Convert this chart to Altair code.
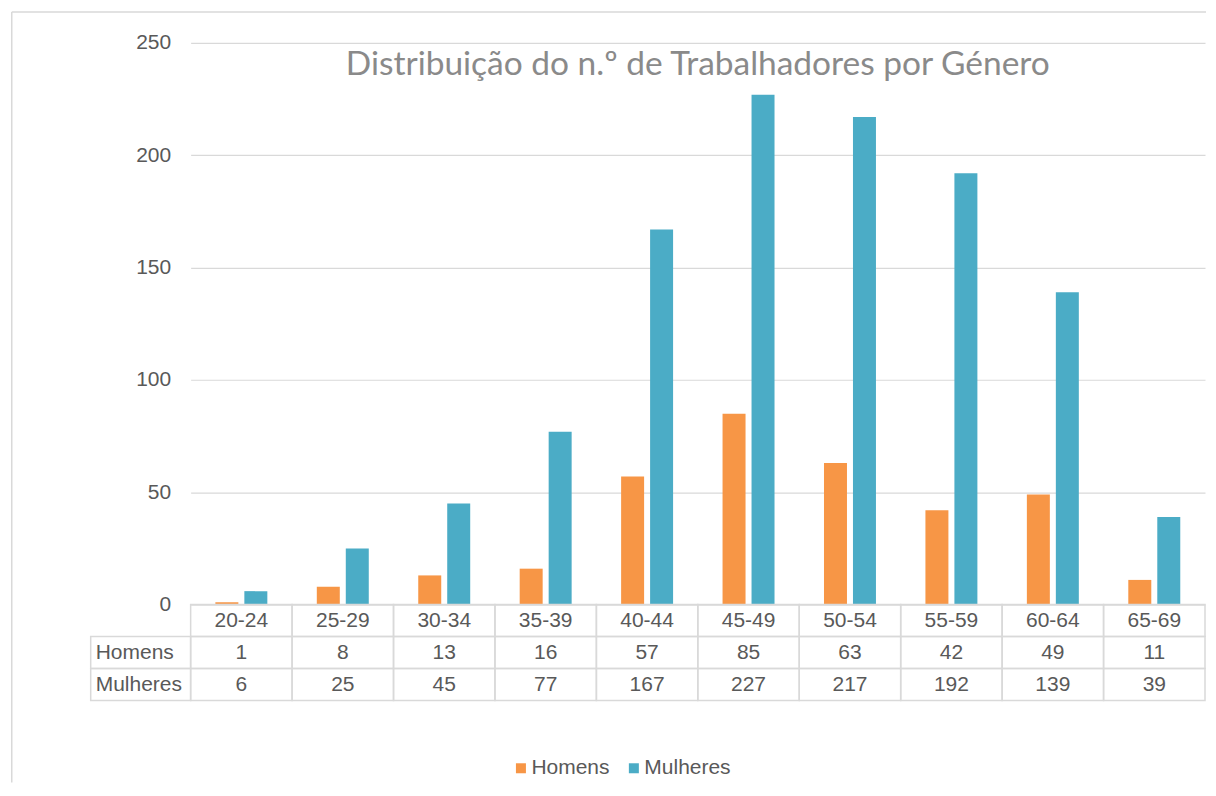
import altair as alt
import pandas as pd

categories = ["20-24", "25-29", "30-34", "35-39", "40-44", "45-49", "50-54", "55-59", "60-64", "65-69"]
homens = [1, 8, 13, 16, 57, 85, 63, 42, 49, 11]
mulheres = [6, 25, 45, 77, 167, 227, 217, 192, 139, 39]
series = ["Homens", "Mulheres"]
colors = ["#F79646", "#4BACC6"]
y_ticks = [0, 50, 100, 150, 200, 250]
title_text = "Distribuição do n.º de Trabalhadores por Género"
row_order = ["header", "Homens", "Mulheres"]

GRID = "#d9d9d9"
TXT = "#595959"
FONT = "Liberation Sans"
FS = 21

bars_df = pd.DataFrame({
    "cat": categories * 2,
    "serie": ["Homens"] * len(categories) + ["Mulheres"] * len(categories),
    "value": homens + mulheres,
})

table_df = pd.DataFrame({
    "cat": categories * 3,
    "row": ["header"] * len(categories) + ["Homens"] * len(categories) + ["Mulheres"] * len(categories),
    "text": categories + [str(v) for v in homens] + [str(v) for v in mulheres],
})
label_df = pd.DataFrame({"row": series})
one = pd.DataFrame({"a": [0]})

W, H, TH = 1015, 562, 96

bars = alt.Chart(bars_df).mark_bar().encode(
    x=alt.X("cat:N", sort=categories, axis=None,
            scale=alt.Scale(paddingInner=0.4877, paddingOuter=0.24385)),
    xOffset=alt.XOffset("serie:N", sort=series,
                        scale=alt.Scale(paddingInner=0.2069, paddingOuter=0)),
    y=alt.Y("value:Q", title=None,
            scale=alt.Scale(domain=[0, 250], nice=False),
            axis=alt.Axis(values=y_ticks, grid=True, gridColor=GRID, gridWidth=1.2,
                          domain=False, ticks=False, labelPadding=20,
                          labelFontSize=FS, labelFont=FONT, labelColor=TXT)),
    color=alt.Color("serie:N", scale=alt.Scale(domain=series, range=colors),
                    legend=alt.Legend(title=None, orient="none", legendX=320, legendY=715,
                                      direction="horizontal", symbolType="square",
                                      symbolSize=100, symbolStrokeWidth=0,
                                      labelFontSize=FS, labelFont=FONT, labelColor=TXT,
                                      columnPadding=13, labelOffset=0)),
)

top = bars.properties(
    width=W, height=H,
    title=alt.TitleParams(title_text, font="Lato", fontSize=33.5, fontWeight="normal",
                          color="#8a8a8a", anchor="middle", frame="group",
                          baseline="alphabetic", offset=-77),
)

xs = alt.X("cat:N", sort=categories, axis=None, scale=alt.Scale(paddingInner=0, paddingOuter=0))
ys = alt.Y("row:N", sort=row_order, axis=None, scale=alt.Scale(paddingInner=0, paddingOuter=0))

cells = alt.Chart(table_df).mark_rect(fillOpacity=0, stroke=GRID, strokeWidth=1.5).encode(x=xs, y=ys)
cell_text = alt.Chart(table_df).mark_text(fontSize=FS, font=FONT, color=TXT).encode(
    x=xs, y=ys, text="text:N")
label_cells = alt.Chart(label_df).mark_rect(fillOpacity=0, stroke=GRID, strokeWidth=1.5).encode(
    x=alt.value(-100), x2=alt.value(0), y=ys)
label_text = alt.Chart(label_df).mark_text(fontSize=FS, font=FONT, color=TXT, align="left").encode(
    x=alt.value(-95), y=ys, text="row:N")

# outer chart frame (top and left edges), relative to the table's origin
frame_left = alt.Chart(one).mark_rule(color=GRID, strokeWidth=1.5).encode(
    x=alt.value(-179), y=alt.value(-593), y2=alt.value(178))
frame_top = alt.Chart(one).mark_rule(color=GRID, strokeWidth=1.5).encode(
    x=alt.value(-179), x2=alt.value(1016), y=alt.value(-593))

table = alt.layer(frame_left, frame_top, cells, label_cells, cell_text, label_text).properties(
    width=W, height=TH)

chart = alt.vconcat(top, table, spacing=0, bounds="flush").properties(
    padding={"left": 1.75, "top": 1.75, "right": 0, "bottom": 0},
    background="white",
).configure_view(stroke="transparent")

chart.save("out.html", embed_options={"renderer": "svg", "actions": False})
